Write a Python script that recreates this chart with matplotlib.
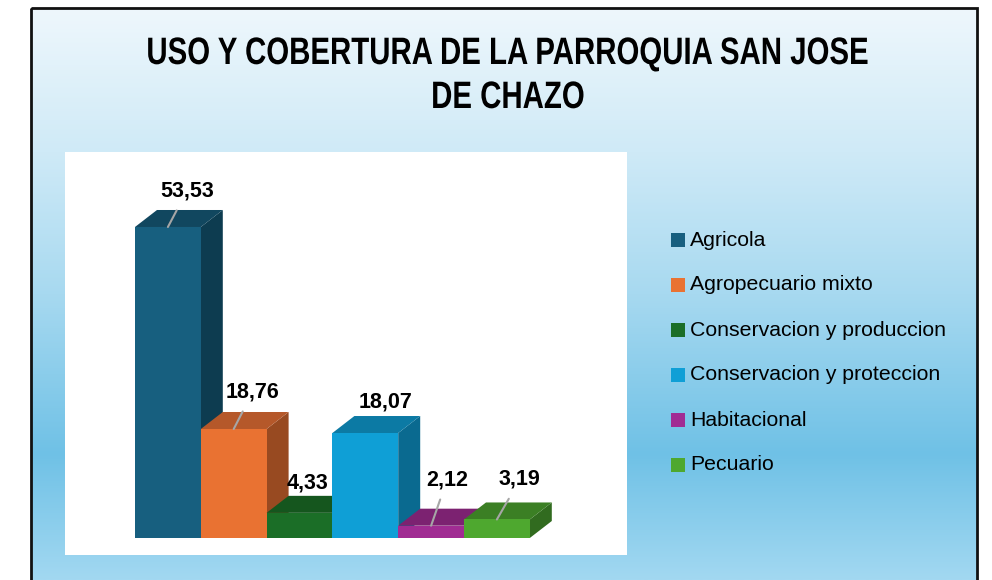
import numpy as np
import matplotlib
matplotlib.use("Agg")
import matplotlib.pyplot as plt
from matplotlib.colors import LinearSegmentedColormap
from matplotlib.patches import Polygon, Rectangle
from matplotlib.patheffects import AbstractPathEffect
from matplotlib.transforms import Affine2D

# data
CATEGORIES = [
    "Agricola",
    "Agropecuario mixto",
    "Conservacion y produccion",
    "Conservacion y proteccion",
    "Habitacional",
    "Pecuario",
]
VALUES = [53.53, 18.76, 4.33, 18.07, 2.12, 3.19]
VALUE_LABELS = ["53,53", "18,76", "4,33", "18,07", "2,12", "3,19"]
TITLE_LINES = ["USO Y COBERTURA DE LA PARROQUIA SAN JOSE", "DE CHAZO"]

# style
FRONT = ["#175f7f", "#e97232", "#1b6e27", "#0f9fd6", "#a12c93", "#4ea82f"]
TOP = ["#11475f", "#b5582a", "#15561e", "#0c7aa4", "#7c2271", "#3b7f24"]
SIDE = ["#0d3c50", "#984a21", "#114a19", "#0a6a90", "#691d60", "#316b1f"]
# label offsets from front-top centre, in pixels (dx, dy)
LABEL_OFFSETS = [(19, 36), (19, 37), (8, 30), (20, 31), (16, 46), (23, 40)]
SHOW_LEADER = [True, True, False, False, True, True]

W, H, DPI = 992, 580, 100


class Squeeze(AbstractPathEffect):
    """Narrow the glyphs horizontally around a fixed x (display px)."""

    def __init__(self, sx, cx):
        super().__init__()
        self.sx = sx
        self.cx = cx

    def draw_path(self, renderer, gc, tpath, affine, rgbFace=None):
        t = affine + Affine2D().translate(-self.cx, 0).scale(self.sx, 1).translate(self.cx, 0)
        renderer.draw_path(gc, tpath, t, rgbFace)


fig = plt.figure(figsize=(W / DPI, H / DPI), dpi=DPI)
fig.patch.set_facecolor("white")

# gradient background inside the frame
bg = fig.add_axes([0, 0, 1, 1])
bg.set_xlim(0, W)
bg.set_ylim(H, 0)
bg.axis("off")
stops = [(0.0, "#eef7fc"), (0.25, "#cfeaf7"), (0.5, "#a7d9f0"),
         (0.78, "#6fc1e6"), (1.0, "#a2d8f1")]
cmap = LinearSegmentedColormap.from_list("bg", stops)
grad = np.linspace(0, 1, 256).reshape(-1, 1)
bg.imshow(grad, cmap=cmap, aspect="auto", extent=(32, 977, H, 9), zorder=0)
bg.add_patch(Rectangle((31, 8), 946, H + 10, fill=False, edgecolor="#111111",
                       linewidth=2, zorder=2))

title_cx = 508
for line, yc in zip(TITLE_LINES, [54, 98]):
    fig.text(title_cx / W, 1 - yc / H, line, ha="center", va="center",
             fontsize=27.5, fontweight="bold", family="Liberation Sans",
             color="black", path_effects=[Squeeze(0.77, title_cx)])

# plot area
px0, py0, px1, py1 = 65, 152, 627, 555
ax = fig.add_axes([px0 / W, 1 - py1 / H, (px1 - px0) / W, (py1 - py0) / H])
ax.set_facecolor("white")
for s in ax.spines.values():
    s.set_visible(False)
ax.set_xticks([])
ax.set_yticks([])

unit_x = 65.8          # px per bar
unit_y = 5.81          # px per value unit
x_first = 135          # left edge of first bar in px
base_y = 538
xmin = -(x_first - px0) / unit_x
ymin = -(py1 - base_y) / unit_y
ax.set_xlim(xmin, xmin + (px1 - px0) / unit_x)
ax.set_ylim(ymin, ymin + (py1 - py0) / unit_y)

ddx = 22 / unit_x
ddy = 17 / unit_y
for i, v in enumerate(VALUES):
    x0, x1 = i, i + 1
    side = Polygon([(x1, 0), (x1 + ddx, ddy), (x1 + ddx, v + ddy), (x1, v)],
                   closed=True, facecolor=SIDE[i], edgecolor="none", zorder=2 + i)
    top = Polygon([(x0, v), (x0 + ddx, v + ddy), (x1 + ddx, v + ddy), (x1, v)],
                  closed=True, facecolor=TOP[i], edgecolor="none", zorder=2 + i)
    front = Rectangle((x0, 0), 1, v, facecolor=FRONT[i], edgecolor="none",
                      zorder=2 + i)
    ax.add_patch(side)
    ax.add_patch(top)
    ax.add_patch(front)

for i, v in enumerate(VALUES):
    ox, oy = LABEL_OFFSETS[i]
    arrow = None
    if SHOW_LEADER[i]:
        arrow = dict(arrowstyle="-", color="#a6a6a6", lw=1.5,
                     shrinkA=5, shrinkB=0)
    ax.annotate(VALUE_LABELS[i], xy=(i + 0.5, v), xytext=(ox, oy),
                textcoords="offset pixels", ha="center", va="center",
                fontsize=15.5, fontweight="bold", family="Liberation Sans",
                arrowprops=arrow, zorder=20, annotation_clip=False)

# legend
for i, name in enumerate(CATEGORIES):
    yc = 240 + i * 45
    bg.add_patch(Rectangle((671, yc - 7), 14, 14, facecolor=FRONT[i],
                           edgecolor="none", zorder=3))
    bg.text(690, yc, name, ha="left", va="center", fontsize=15.3,
            family="Liberation Sans", color="black", zorder=3)

fig.savefig("out.png", dpi=DPI)
